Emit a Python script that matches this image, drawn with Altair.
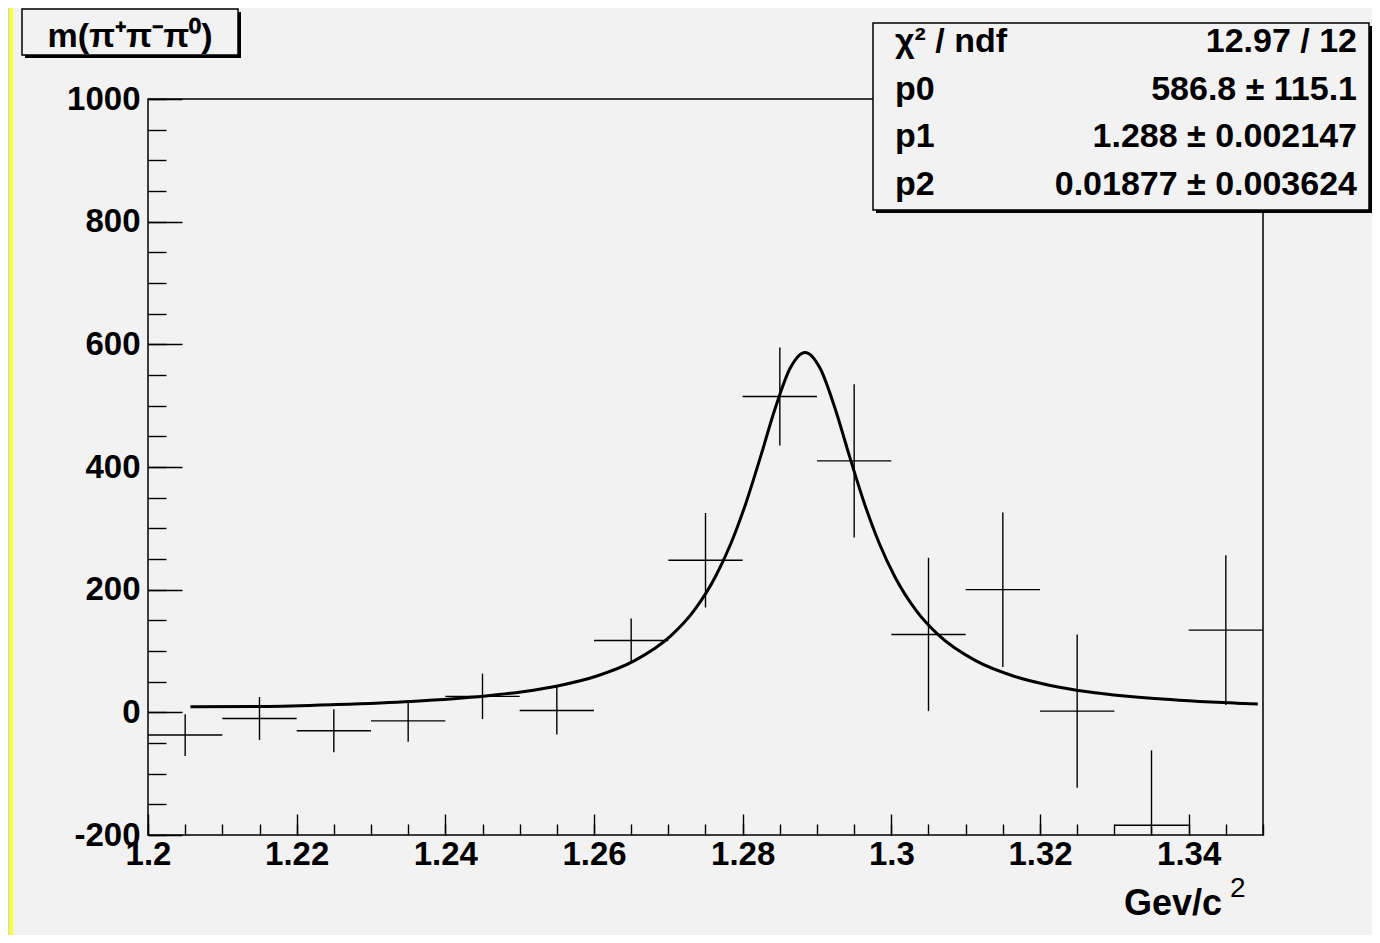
import altair as alt
import pandas as pd

# ---- data ----
bin_centers = [1.205, 1.215, 1.225, 1.235, 1.245, 1.255, 1.265, 1.275,
               1.285, 1.295, 1.305, 1.315, 1.325, 1.335, 1.345]
counts = [-37, -10, -30, -14, 26, 3, 117, 248, 515, 410, 127, 200, 2, -184, 134]
errors = [34, 35, 35, 34, 37, 39, 36, 77, 80, 125, 125, 126, 125, 122, 122]
bin_width = 0.01

# fitted curve
fit_x = [1.2057, 1.2154, 1.2254, 1.2354, 1.2454, 1.2504, 1.2554, 1.2604, 1.2654,
         1.2704, 1.2734, 1.2764, 1.2784, 1.2804, 1.2824, 1.2844, 1.2864, 1.2884,
         1.2904, 1.2924, 1.2944, 1.2964, 1.2984, 1.3004, 1.3034, 1.3064, 1.3114,
         1.3164, 1.3214, 1.3264, 1.3314, 1.3364, 1.3414, 1.3464, 1.3493]
fit_y = [9.0, 9.5, 12.7, 17.8, 26.7, 33.7, 43.9, 59.3, 83.8,
         125.4, 165.0, 222.7, 274.8, 339.8, 416.5, 496.6, 561.3, 586.8,
         561.3, 496.6, 416.5, 339.8, 274.8, 222.7, 165.0, 125.4, 83.8,
         59.3, 43.9, 33.7, 26.7, 21.6, 17.8, 15.0, 13.6]

x_major = [1.2, 1.22, 1.24, 1.26, 1.28, 1.3, 1.32, 1.34]
x_minor = [1.2, 1.205, 1.21, 1.215, 1.22, 1.225, 1.23, 1.235, 1.24, 1.245, 1.25,
           1.255, 1.26, 1.265, 1.27, 1.275, 1.28, 1.285, 1.29, 1.295, 1.3, 1.305,
           1.31, 1.315, 1.32, 1.325, 1.33, 1.335, 1.34, 1.345, 1.35]
y_major = [-200, 0, 200, 400, 600, 800, 1000]
y_minor = [-200, -150, -100, -50, 0, 50, 100, 150, 200, 250, 300, 350, 400, 450,
           500, 550, 600, 650, 700, 750, 800, 850, 900, 950, 1000]

title_text = "m(π⁺π⁻π⁰)"
stat_names = ["χ² / ndf", "p0", "p1", "p2"]
stat_values = ["12.97 / 12", "586.8 ± 115.1", "1.288 ± 0.002147", "0.01877 ± 0.003624"]
x_title = "Gev/c"
x_title_sup = "2"

# ---- tables ----
df = pd.DataFrame({"x": bin_centers, "y": counts, "err": errors})
df["lo"] = df["y"] - df["err"]
df["hi"] = df["y"] + df["err"]
df["xlo"] = df["x"] - bin_width / 2
df["xhi"] = df["x"] + bin_width / 2
fit = pd.DataFrame({"fx": fit_x, "fy": fit_y})
one = pd.DataFrame({"k": [0]})

W, H = 1115, 736
FONT = "Liberation Sans"
BG = "#f2f2f2"

xscale = alt.Scale(domain=[1.2, 1.35], nice=False, zero=False)
yscale = alt.Scale(domain=[-200, 1000], nice=False, zero=False)

common_tick = dict(labels=False, domain=False, grid=False, title=None,
                   tickColor="black", tickWidth=1.4)

ax_x_labels = alt.Axis(orient="bottom", values=x_major, labelExpr="datum.value + ''",
                       ticks=False, tickSize=0,
                       domain=False, grid=False, title=None, labelFont=FONT,
                       labelFontSize=33, labelFontWeight="bold", labelColor="black",
                       labelPadding=3, labelFlush=False, labelOverlap=False)
ax_y_labels = alt.Axis(orient="left", values=y_major, labelExpr="datum.value + ''",
                       ticks=False, tickSize=0,
                       domain=False, grid=False, title=None, labelFont=FONT,
                       labelFontSize=33, labelFontWeight="bold", labelColor="black",
                       labelPadding=8, labelFlush=False, labelOverlap=False)
ax_x_major = alt.Axis(orient="top", offset=-H, values=x_major, tickSize=21, **common_tick)
ax_x_minor = alt.Axis(orient="top", offset=-H, values=x_minor, tickSize=11, **common_tick)
ax_y_major = alt.Axis(orient="right", offset=-W, values=y_major, tickSize=34, **common_tick)
ax_y_minor = alt.Axis(orient="right", offset=-W, values=y_minor, tickSize=18, **common_tick)

base = alt.Chart(df)

vbars = base.mark_rule(color="black", strokeWidth=1.4, clip=True).encode(
    x=alt.X("x:Q", scale=xscale, axis=ax_x_labels),
    y=alt.Y("lo:Q", scale=yscale, axis=ax_y_labels),
    y2="hi:Q",
)
hbars = base.mark_rule(color="black", strokeWidth=1.4, clip=True).encode(
    x=alt.X("xlo:Q", scale=xscale, axis=ax_x_major),
    x2="xhi:Q",
    y=alt.Y("y:Q", scale=yscale, axis=ax_y_major),
)
curve = alt.Chart(fit).mark_line(color="black", strokeWidth=3, interpolate="monotone").encode(
    x=alt.X("fx:Q", scale=xscale, axis=ax_x_minor),
    y=alt.Y("fy:Q", scale=yscale, axis=ax_y_minor),
)


def box(x1, x2, y1, y2, fill, stroke=None, sw=0):
    kw = dict(fill=fill)
    if stroke:
        kw.update(stroke=stroke, strokeWidth=sw)
    return alt.Chart(one).mark_rect(**kw).encode(
        x=alt.value(x1), x2=alt.value(x2), y=alt.value(y1), y2=alt.value(y2))


def txt(s, x, y, size, align="left", baseline="middle", weight="bold"):
    return alt.Chart(one).mark_text(
        text=s, align=align, baseline=baseline, fontSize=size, fontWeight=weight,
        font=FONT, color="black").encode(x=alt.value(x), y=alt.value(y))


layers = [vbars, hbars, curve]

# canvas border strips
layers.append(box(-140, -139, -91, 836, "#b8dde2"))
layers.append(box(-139, -135, -91, 836, "#ffff33"))

# title box
layers.append(box(-123, 93, -87, -41, "black"))
layers.append(box(-126, 90, -90, -44, BG, "black", 1.5))
layers.append(txt(title_text, -18, -52, 34, align="center", baseline="alphabetic"))

# stats box
layers.append(box(728, 1224, -73, 114, "black"))
layers.append(box(725, 1221, -76, 111, BG, "black", 1.5))
row_y = [-57, -9, 38, 86]
for name, val, ry in zip(stat_names, stat_values, row_y):
    layers.append(txt(name, 747, ry, 34))
    layers.append(txt(val, 1209, ry, 34, align="right"))

# x-axis title
layers.append(txt(x_title, 1074, 816, 36, align="right", baseline="alphabetic"))
layers.append(txt(x_title_sup, 1082, 798, 28, align="left", baseline="alphabetic", weight="normal"))

chart = alt.layer(*layers).resolve_axis(x="independent", y="independent").properties(
    width=W, height=H,
    autosize=alt.AutoSizeParams(type="none"),
    padding={"left": 140, "top": 91, "right": 109, "bottom": 100},
    background=BG,
).configure_view(stroke="black", strokeWidth=1.5, fill=None)

chart.save("out.html", embed_options={"renderer": "svg", "actions": False})
